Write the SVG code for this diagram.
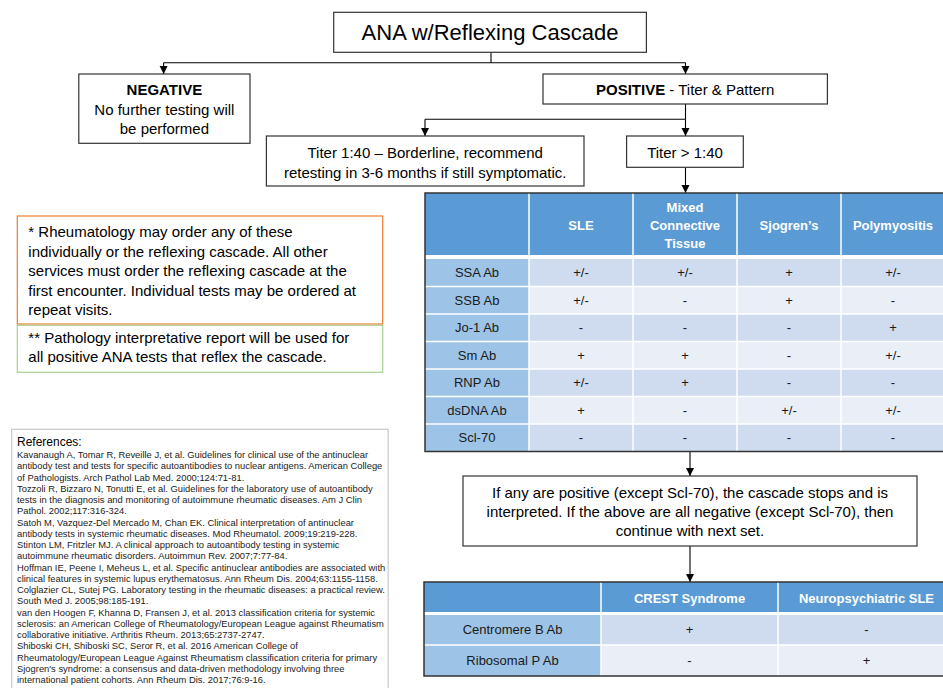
<svg xmlns="http://www.w3.org/2000/svg" width="943" height="688" viewBox="0 0 943 688">
<defs>
<marker id="arr" markerUnits="userSpaceOnUse" markerWidth="8" markerHeight="9" refX="8" refY="4" orient="auto">
<path d="M0,0 L8,4 L0,8 z" fill="#000"/>
</marker>
<style>
text{font-family:"Liberation Sans",Arial,sans-serif;fill:#000}
.box{fill:#fff;stroke:#333;stroke-width:1.2}
.t15{font-size:15px;text-anchor:middle}
.t22{font-size:22px;text-anchor:middle}
.b{font-weight:bold}
.note{font-size:15px}
.ref{font-size:9.4px;fill:#222}
.conn{stroke:#000;stroke-width:1.1;fill:none}
.hd{fill:#5B9BD5}
.lc{fill:#9DC3E6}
.ro{fill:#CFDBEE}
.re{fill:#E9EEF7}
.sep{stroke:#fff;stroke-width:1.5}
.th{font-size:13px;font-weight:bold;fill:#fff;text-anchor:middle}
.td{font-size:13px;fill:#1a1a1a;text-anchor:middle}
</style>
</defs>

<g id="connectors">
<path class="conn" d="M491,52.3 V62.7"/>
<path class="conn" d="M163.6,62.7 H685.5"/>
<path class="conn" d="M163.6,62.7 V74" marker-end="url(#arr)"/>
<path class="conn" d="M685.5,62.7 V74" marker-end="url(#arr)"/>
<path class="conn" d="M685.5,104 V119.3"/>
<path class="conn" d="M425,119.3 H685.5"/>
<path class="conn" d="M425,119.3 V136" marker-end="url(#arr)"/>
<path class="conn" d="M685.5,119.3 V136" marker-end="url(#arr)"/>
<path class="conn" d="M685.5,167.3 V193" marker-end="url(#arr)"/>
<path class="conn" d="M690,452 V476" marker-end="url(#arr)"/>
<path class="conn" d="M690,546 V582" marker-end="url(#arr)"/>
</g>

<g id="title">
<rect class="box" x="333.7" y="12.3" width="312.7" height="40"/>
<text class="t22" x="490" y="40">ANA w/Reflexing Cascade</text>
</g>

<g id="negative">
<rect class="box" x="78.8" y="74" width="171.2" height="69.3"/>
<text class="t15 b" x="164.4" y="94.5">NEGATIVE</text>
<text class="t15" x="164.4" y="114.5">No further testing will</text>
<text class="t15" x="164.4" y="133.5">be performed</text>
</g>

<g id="positive">
<rect class="box" x="543" y="74" width="284.4" height="30"/>
<text class="t15" x="685.2" y="94.5"><tspan class="b">POSITIVE</tspan> - Titer &amp; Pattern</text>
</g>

<g id="titer140">
<rect class="box" x="266.4" y="136" width="317.6" height="50"/>
<text class="t15" x="425.2" y="158">Titer 1:40 – Borderline, recommend</text>
<text class="t15" x="425.2" y="178">retesting in 3-6 months if still symptomatic.</text>
</g>

<g id="titergt140">
<rect class="box" x="626.6" y="136" width="116.7" height="31.3"/>
<text class="t15" x="685" y="158">Titer &gt; 1:40</text>
</g>

<g id="note1">
<rect x="17.3" y="216" width="365.4" height="108" fill="#fff" stroke="#ED7D31" stroke-width="1.2"/>
<text class="note" x="28.3" y="237">* Rheumatology may order any of these</text>
<text class="note" x="28.3" y="256.5">individually or the reflexing cascade. All other</text>
<text class="note" x="28.3" y="276">services must order the reflexing cascade at the</text>
<text class="note" x="28.3" y="295.5">first encounter. Individual tests may be ordered at</text>
<text class="note" x="28.3" y="315">repeat visits.</text>
</g>

<g id="note2">
<rect x="17.3" y="325.3" width="365.4" height="47" fill="#fff" stroke="#A9D18E" stroke-width="1.2"/>
<text class="note" x="28.3" y="342.5">** Pathology interpretative report will be used for</text>
<text class="note" x="28.3" y="362">all positive ANA tests that reflex the cascade.</text>
</g>

<g id="references">
<rect x="11.7" y="429.3" width="376.5" height="270" fill="#fff" stroke="#C8C8C8" stroke-width="1.2"/>
<text x="17" y="446" font-size="12px" fill="#222">References:</text>
<text class="ref" x="17" y="458">Kavanaugh A, Tomar R, Reveille J, et al. Guidelines for clinical use of the antinuclear<tspan x="17" dy="11.25">antibody test and tests for specific autoantibodies to nuclear antigens. American College</tspan><tspan x="17" dy="11.25">of Pathologists. Arch Pathol Lab Med. 2000;124:71-81.</tspan><tspan x="17" dy="11.25">Tozzoli R, Bizzaro N, Tonutti E, et al. Guidelines for the laboratory use of autoantibody</tspan><tspan x="17" dy="11.25">tests in the diagnosis and monitoring of autoimmune rheumatic diseases. Am J Clin</tspan><tspan x="17" dy="11.25">Pathol. 2002;117:316-324.</tspan><tspan x="17" dy="11.25">Satoh M, Vazquez-Del Mercado M, Chan EK. Clinical interpretation of antinuclear</tspan><tspan x="17" dy="11.25">antibody tests in systemic rheumatic diseases. Mod Rheumatol. 2009;19:219-228.</tspan><tspan x="17" dy="11.25">Stinton LM, Fritzler MJ. A clinical approach to autoantibody testing in systemic</tspan><tspan x="17" dy="11.25">autoimmune rheumatic disorders. Autoimmun Rev. 2007;7:77-84.</tspan><tspan x="17" dy="11.25">Hoffman IE, Peene I, Meheus L, et al. Specific antinuclear antibodies are associated with</tspan><tspan x="17" dy="11.25">clinical features in systemic lupus erythematosus. Ann Rheum Dis. 2004;63:1155-1158.</tspan><tspan x="17" dy="11.25">Colglazier CL, Sutej PG. Laboratory testing in the rheumatic diseases: a practical review.</tspan><tspan x="17" dy="11.25">South Med J. 2005;98:185-191.</tspan><tspan x="17" dy="11.25">van den Hoogen F, Khanna D, Fransen J, et al. 2013 classification criteria for systemic</tspan><tspan x="17" dy="11.25">sclerosis: an American College of Rheumatology/European League against Rheumatism</tspan><tspan x="17" dy="11.25">collaborative initiative. Arthritis Rheum. 2013;65:2737-2747.</tspan><tspan x="17" dy="11.25">Shiboski CH, Shiboski SC, Seror R, et al. 2016 American College of</tspan><tspan x="17" dy="11.25">Rheumatology/European League Against Rheumatism classification criteria for primary</tspan><tspan x="17" dy="11.25">Sjogren's syndrome: a consensus and data-driven methodology involving three</tspan><tspan x="17" dy="11.25">international patient cohorts. Ann Rheum Dis. 2017;76:9-16.</tspan></text>
</g>

<g id="table1">
<rect x="425" y="193" width="525" height="258.5" fill="#fff"/>
<rect class="hd" x="425" y="193" width="525" height="62"/>
<rect class="lc" x="425" y="259" width="104" height="192.5"/>
<rect class="ro" x="529" y="259" width="421" height="27.5"/>
<rect class="re" x="529" y="286.5" width="421" height="27.5"/>
<rect class="ro" x="529" y="314" width="421" height="27.5"/>
<rect class="re" x="529" y="341.5" width="421" height="27.5"/>
<rect class="ro" x="529" y="369" width="421" height="27.5"/>
<rect class="re" x="529" y="396.5" width="421" height="27.5"/>
<rect class="ro" x="529" y="424" width="421" height="27.5"/>
<path class="sep" d="M529,193 V451.5 M633,193 V451.5 M737,193 V451.5 M841,193 V451.5 M425,286.5 H950 M425,314 H950 M425,341.5 H950 M425,369 H950 M425,396.5 H950 M425,424 H950"/>
<rect x="425" y="193" width="530" height="258.5" fill="none" stroke="#333" stroke-width="1.5"/>
<text class="th" x="581" y="230">SLE</text>
<text class="th" x="685" y="212">Mixed</text>
<text class="th" x="685" y="230">Connective</text>
<text class="th" x="685" y="248">Tissue</text>
<text class="th" x="789" y="230">Sjogren’s</text>
<text class="th" x="893" y="230">Polymyositis</text>
<text class="td" x="477" y="277">SSA Ab</text>
<text class="td" x="477" y="304.5">SSB Ab</text>
<text class="td" x="477" y="332">Jo-1 Ab</text>
<text class="td" x="477" y="359.5">Sm Ab</text>
<text class="td" x="477" y="387">RNP Ab</text>
<text class="td" x="477" y="414.5">dsDNA Ab</text>
<text class="td" x="477" y="442">Scl-70</text>
<text class="td" x="581" y="277">+/-</text><text class="td" x="685" y="277">+/-</text><text class="td" x="789" y="277">+</text><text class="td" x="893" y="277">+/-</text>
<text class="td" x="581" y="304.5">+/-</text><text class="td" x="685" y="304.5">-</text><text class="td" x="789" y="304.5">+</text><text class="td" x="893" y="304.5">-</text>
<text class="td" x="581" y="332">-</text><text class="td" x="685" y="332">-</text><text class="td" x="789" y="332">-</text><text class="td" x="893" y="332">+</text>
<text class="td" x="581" y="359.5">+</text><text class="td" x="685" y="359.5">+</text><text class="td" x="789" y="359.5">-</text><text class="td" x="893" y="359.5">+/-</text>
<text class="td" x="581" y="387">+/-</text><text class="td" x="685" y="387">+</text><text class="td" x="789" y="387">-</text><text class="td" x="893" y="387">-</text>
<text class="td" x="581" y="414.5">+</text><text class="td" x="685" y="414.5">-</text><text class="td" x="789" y="414.5">+/-</text><text class="td" x="893" y="414.5">+/-</text>
<text class="td" x="581" y="442">-</text><text class="td" x="685" y="442">-</text><text class="td" x="789" y="442">-</text><text class="td" x="893" y="442">-</text>
</g>

<g id="cascade-note">
<rect class="box" x="463" y="476" width="454" height="70"/>
<text class="t15" x="690" y="497.5">If any are positive (except Scl-70), the cascade stops and is</text>
<text class="t15" x="690" y="517">interpreted. If the above are all negative (except Scl-70), then</text>
<text class="t15" x="690" y="536">continue with next set.</text>
</g>

<g id="table2">
<rect x="424" y="582" width="531" height="94" fill="#fff"/>
<rect class="hd" x="424" y="582" width="531" height="30"/>
<rect class="lc" x="424" y="615" width="177" height="61"/>
<rect class="ro" x="601" y="615" width="354" height="30"/>
<rect class="re" x="601" y="645" width="354" height="31"/>
<path class="sep" d="M601,582 V676 M778,582 V676 M424,645 H955"/>
<rect x="424" y="582" width="531" height="94" fill="none" stroke="#333" stroke-width="1.5"/>
<text class="th" x="689.5" y="603">CREST Syndrome</text>
<text class="th" x="866.5" y="603">Neuropsychiatric SLE</text>
<text class="td" x="512.5" y="634">Centromere B Ab</text>
<text class="td" x="512.5" y="665">Ribosomal P Ab</text>
<text class="td" x="689.5" y="634">+</text><text class="td" x="866.5" y="634">-</text>
<text class="td" x="689.5" y="665">-</text><text class="td" x="866.5" y="665">+</text>
</g>
</svg>
